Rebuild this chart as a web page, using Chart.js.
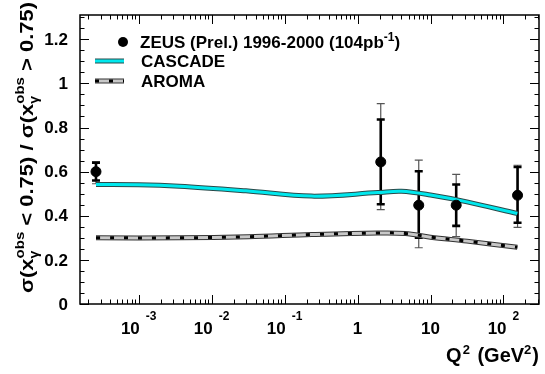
<!DOCTYPE html>
<html>
<head>
<meta charset="utf-8">
<script src="https://cdn.jsdelivr.net/npm/chart.js@4.4.1/dist/chart.umd.min.js"></script>
<style>
  html, body { margin: 0; padding: 0; background: #fff; }
  #wrap { width: 545px; height: 374px; }
</style>
</head>
<body>
<div id="wrap"><canvas id="c" width="545" height="374"></canvas></div>
<script>
// ZEUS data points: x = Q^2 (GeV^2), y = ratio
const zeusQ2 = [2.6e-4, 2.08, 6.9, 22.5, 156];
const zeusRatio = [0.600, 0.644, 0.448, 0.448, 0.493];
const statUp = [0.040, 0.192, 0.154, 0.094, 0.128];
const statDn = [0.040, 0.192, 0.148, 0.094, 0.125];
const totUp = [0.045, 0.264, 0.204, 0.140, 0.136];
const totDn = [0.055, 0.216, 0.193, 0.143, 0.146];

// model curves
const cascadeQ2 = [2.6e-4, 1e-3, 3.6e-3, 0.0295, 0.234, 1.9, 4.0, 10, 31.6, 155];
const cascadeRatio = [0.542, 0.541, 0.534, 0.513, 0.489, 0.505, 0.511, 0.494, 0.463, 0.410];
const aromaQ2 = [2.6e-4, 3.6e-3, 0.0316, 0.234, 1.9, 4.5, 10, 31.6, 155];
const aromaRatio = [0.300, 0.300, 0.305, 0.315, 0.322, 0.320, 0.303, 0.285, 0.257];

// axes
const xMin = 1.57e-4, xMax = 307;
const yMin = 0, yMax = 1.31;
const yTicks = [0, 0.2, 0.4, 0.6, 0.8, 1, 1.2];
const yTickLabels = ['0', '0.2', '0.4', '0.6', '0.8', '1', '1.2'];
const xDecades = [-3, -2, -1, 0, 1, 2];
const xTickLabels = [['10', '-3'], ['10', '-2'], ['10', '-1'], ['1', ''], ['10', ''], ['10', '2']];

const FONT = "'Liberation Sans', Arial, Helvetica, sans-serif";
const pts = (xs, ys) => xs.map((x, i) => ({ x, y: ys[i] }));

// draws a run of text pieces along the baseline, returns end x
function drawRun(ctx, x, y, parts) {
  parts.forEach(p => {
    ctx.font = 'bold ' + p.size + 'px ' + FONT;
    ctx.fillText(p.t, x + (p.dx || 0), y + (p.dy || 0));
    x += (p.dx || 0) + (p.adv === undefined ? ctx.measureText(p.t).width : p.adv);
  });
  return x;
}
function runWidth(ctx, parts) {
  let w = 0;
  parts.forEach(p => {
    ctx.font = 'bold ' + p.size + 'px ' + FONT;
    w += (p.dx || 0) + (p.adv === undefined ? ctx.measureText(p.t).width : p.adv);
  });
  return w;
}

const frame = {
  id: 'frame',
  beforeDatasetsDraw(chart) {
    const { ctx, scales: { x, y } } = chart;
    // error bars: outer (total) thin, inner (stat) thick
    ctx.save();
    zeusQ2.forEach((q, i) => {
      const px = x.getPixelForValue(q);
      const v = zeusRatio[i];
      const bar = (lo, hi, w, col, cap) => {
        ctx.strokeStyle = col; ctx.lineWidth = w;
        ctx.beginPath();
        ctx.moveTo(px, y.getPixelForValue(lo)); ctx.lineTo(px, y.getPixelForValue(hi));
        [lo, hi].forEach(e => {
          const py = y.getPixelForValue(e);
          ctx.moveTo(px - cap, py); ctx.lineTo(px + cap, py);
        });
        ctx.stroke();
      };
      bar(v - totDn[i], v + totUp[i], 1.2, '#555', 4);
      bar(v - statDn[i], v + statUp[i], 2.6, '#000', 4);
    });
    ctx.restore();
  },
  afterDraw(chart) {
    const { ctx, chartArea: a, scales: { x, y } } = chart;
    ctx.save();
    ctx.strokeStyle = '#000';
    ctx.lineWidth = 1.5;
    ctx.strokeRect(a.left, a.top, a.right - a.left, a.bottom - a.top);

    ctx.lineWidth = 1;
    ctx.beginPath();
    // x ticks (inside, bottom and top)
    for (let d = -4; d <= 2; d++) {
      for (let m = 1; m <= 9; m++) {
        const v = m * Math.pow(10, d);
        if (v < xMin || v > xMax) continue;
        const px = Math.round(x.getPixelForValue(v)) + 0.5;
        const len = m === 1 ? 9 : 4.5;
        ctx.moveTo(px, a.bottom); ctx.lineTo(px, a.bottom - len);
        ctx.moveTo(px, a.top); ctx.lineTo(px, a.top + len);
      }
    }
    // y ticks (inside, left and right)
    for (let k = 0; k * 0.05 <= yMax + 1e-9; k++) {
      const py = Math.round(y.getPixelForValue(k * 0.05)) + 0.5;
      const len = k % 4 === 0 ? 9 : 4.5;
      ctx.moveTo(a.left, py); ctx.lineTo(a.left + len, py);
      ctx.moveTo(a.right, py); ctx.lineTo(a.right - len, py);
    }
    ctx.stroke();

    // y tick labels
    ctx.fillStyle = '#000';
    ctx.font = 'bold 17px ' + FONT;
    ctx.textAlign = 'right';
    ctx.textBaseline = 'middle';
    yTicks.forEach((v, i) => ctx.fillText(yTickLabels[i], 68, y.getPixelForValue(v) + 1));

    // x tick labels with exponents
    ctx.textAlign = 'left';
    ctx.textBaseline = 'alphabetic';
    xDecades.forEach((d, i) => {
      const px = x.getPixelForValue(Math.pow(10, d));
      const [base, ex] = xTickLabels[i];
      const wb = runWidth(ctx, [{ t: base, size: 17 }]);
      const we = ex ? runWidth(ctx, [{ t: ex, size: 12 }]) + 6 : 0;
      const x0 = px - (wb + we) / 2;
      drawRun(ctx, x0, 334, [{ t: base, size: 17 }]);
      if (ex) drawRun(ctx, x0 + wb + 6, 320, [{ t: ex, size: 12 }]);
    });

    // x title, right-aligned
    const xt = [{ t: 'Q', size: 20 }, { t: '2', size: 13, dx: 1, dy: -8 }, { t: ' (GeV', size: 20, dx: 2 },
                { t: '2', size: 13, dy: -8 }, { t: ')', size: 20, dx: 1 }];
    drawRun(ctx, a.right - runWidth(ctx, xt), 362, xt);

    // y title, rotated and stretched along the text to fit the reference length
    const sub = [{ t: '\u03b3', size: 12, dy: 5, adv: 0 }, { t: 'obs', size: 13, dy: -9 }];
    const yt = [{ t: '\u03c3(x', size: 19 }, ...sub, { t: ' < 0.75) / \u03c3(x', size: 19 },
                ...sub, { t: ' > 0.75)', size: 19 }];
    const yw = runWidth(ctx, yt);
    ctx.save();
    ctx.translate(33, 293);
    ctx.rotate(-Math.PI / 2);
    ctx.scale(291 / yw, 1);
    drawRun(ctx, 0, 0, yt);
    ctx.restore();

    // legend
    ctx.beginPath();
    ctx.fillStyle = '#000';
    ctx.arc(123, 42, 5, 0, Math.PI * 2);
    ctx.fill();
    drawRun(ctx, 140, 48, [{ t: 'ZEUS (Prel.) 1996-2000 (104pb', size: 17 },
      { t: '-1', size: 12, dy: -7 }, { t: ')', size: 17 }]);

    const seg = (yy, w, col, dash) => {
      ctx.strokeStyle = col; ctx.lineWidth = w; ctx.setLineDash(dash || []);
      ctx.beginPath(); ctx.moveTo(95, yy); ctx.lineTo(124, yy); ctx.stroke();
    };
    seg(61, 5, '#2a4a4a'); seg(61, 3, '#00e8ee');
    seg(81, 5, '#333'); seg(81, 3, '#c8c8c8'); seg(81, 3, '#000', [4, 10]);
    ctx.setLineDash([]);
    drawRun(ctx, 141, 67, [{ t: 'CASCADE', size: 17 }]);
    drawRun(ctx, 141, 87, [{ t: 'AROMA', size: 17 }]);
    ctx.restore();
  }
};

const lineDs = (data, color, width, dash) => ({
  type: 'line', data, borderColor: color, borderWidth: width, borderDash: dash || [],
  pointRadius: 0, tension: 0.35, fill: false
});

new Chart(document.getElementById('c'), {
  data: {
    datasets: [
      { type: 'scatter', data: pts(zeusQ2, zeusRatio), backgroundColor: '#000',
        borderColor: '#000', pointRadius: 5, pointHoverRadius: 5, order: 0 },
      Object.assign(lineDs(pts(cascadeQ2, cascadeRatio), '#00e8ee', 3), { order: 1 }),
      Object.assign(lineDs(pts(cascadeQ2, cascadeRatio), '#2a4a4a', 5), { order: 2 }),
      Object.assign(lineDs(pts(aromaQ2, aromaRatio), '#000', 3, [4, 10]), { order: 3 }),
      Object.assign(lineDs(pts(aromaQ2, aromaRatio), '#c8c8c8', 3), { order: 4 }),
      Object.assign(lineDs(pts(aromaQ2, aromaRatio), '#333', 5), { order: 5 })
    ]
  },
  options: {
    responsive: false,
    animation: false,
    events: [],
    layout: { padding: { left: 80, right: 2, top: 15, bottom: 70 } },
    plugins: { legend: { display: false }, tooltip: { enabled: false } },
    scales: {
      x: { type: 'logarithmic', min: xMin, max: xMax, display: false },
      y: { type: 'linear', min: yMin, max: yMax, display: false }
    }
  },
  plugins: [frame]
});
</script>
</body>
</html>
